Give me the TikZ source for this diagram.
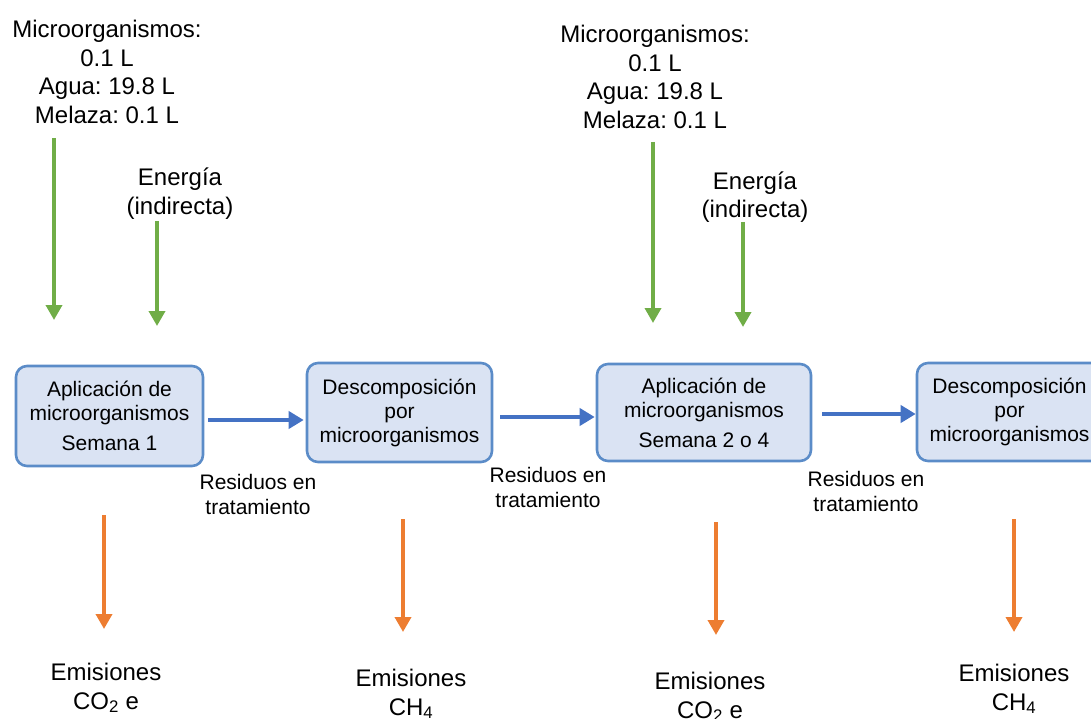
\documentclass[tikz,border=0pt]{standalone}
\usepackage{fontspec}
\setmainfont{Liberation Sans}
\usetikzlibrary{arrows.meta}
\frenchspacing
\definecolor{boxfill}{HTML}{DAE3F3}
\definecolor{boxline}{HTML}{5B8CC8}
\definecolor{flowblue}{HTML}{4472C4}
\definecolor{ingreen}{HTML}{70AD47}
\definecolor{outorange}{HTML}{ED7D31}
\tikzset{
  stagebox/.style={draw=boxline, fill=boxfill, line width=2.6pt, rounded corners=11pt,
    inner sep=0pt, align=center, font=\fontsize{21}{24}\selectfont},
  biglabel/.style={align=center, inner sep=0pt, font=\fontsize{24}{28.5}\selectfont},
  smalllabel/.style={align=center, inner sep=0pt, font=\fontsize{21}{25}\selectfont},
  flowarrow/.style={draw=flowblue, line width=3.8pt, -{Triangle[length=15pt,width=17pt]}},
  inputarrow/.style={draw=ingreen, line width=3.6pt, -{Triangle[length=15pt,width=16pt]}},
  emitarrow/.style={draw=outorange, line width=3.6pt, -{Triangle[length=15pt,width=16pt]}}
}
\begin{document}
\frenchspacing
\begin{tikzpicture}[x=1pt,y=-1pt]
\useasboundingbox (0,0) rectangle (1091,719);
\clip (0,0) rectangle (1091,719);

% process stages
\node[stagebox, minimum width=187pt, minimum height=100pt] (b1) at (109.5,416)
  {Aplicación de\\microorganismos\\[6pt]Semana 1};
\node[stagebox, minimum width=185pt, minimum height=99pt] (b2) at (399.5,412.5)
  {Descomposición\\por\\microorganismos};
\node[stagebox, minimum width=214pt, minimum height=97pt] (b3) at (704,412.5)
  {Aplicación de\\microorganismos\\[6pt]Semana 2 o 4};
\node[stagebox, minimum width=185pt, minimum height=98pt] (b4) at (1009.5,412)
  {Descomposición\\por\\microorganismos};

% flow between stages
\draw[flowarrow] ([xshift=4pt,yshift=-4pt]b1.east) -- ([xshift=-2pt,yshift=-7.5pt]b2.west);
\draw[flowarrow] ([xshift=7pt,yshift=-4.5pt]b2.east) -- ([xshift=-1pt,yshift=-4.5pt]b3.west);
\draw[flowarrow] ([xshift=10pt,yshift=-1.5pt]b3.east) -- ([xshift=0pt,yshift=-2pt]b4.west);

\node[smalllabel] (r1) at (258,494.5) {Residuos en\\tratamiento};
\node[smalllabel] (r2) at (548,487) {Residuos en\\tratamiento};
\node[smalllabel] (r3) at (866,491) {Residuos en\\tratamiento};

% inputs
\node[biglabel] (in1) at (107,72) {Microorganismos:\\0.1 L\\Agua: 19.8 L\\Melaza: 0.1 L};
\node[biglabel] (en1) at (180,193.5) {Energía\\(indirecta)};
\node[biglabel] (in2) at (655,77) {Microorganismos:\\0.1 L\\Agua: 19.8 L\\Melaza: 0.1 L};
\node[biglabel] (en2) at (755,197) {Energía\\(indirecta)};

\coordinate (g1s) at (54,138);  \coordinate (g1e) at (54,320);
\coordinate (g2s) at (157,221); \coordinate (g2e) at (157,326);
\coordinate (g3s) at (653,142); \coordinate (g3e) at (653,323);
\coordinate (g4s) at (743,222); \coordinate (g4e) at (743,327);
\draw[inputarrow] (g1s) -- (g1e);
\draw[inputarrow] (g2s) -- (g2e);
\draw[inputarrow] (g3s) -- (g3e);
\draw[inputarrow] (g4s) -- (g4e);

% emissions
\coordinate (o1s) at (104,515);  \coordinate (o1e) at (104,629);
\coordinate (o2s) at (403,519);  \coordinate (o2e) at (403,632);
\coordinate (o3s) at (716,522);  \coordinate (o3e) at (716,635);
\coordinate (o4s) at (1014,519); \coordinate (o4e) at (1014,632);
\draw[emitarrow] (o1s) -- (o1e);
\draw[emitarrow] (o2s) -- (o2e);
\draw[emitarrow] (o3s) -- (o3e);
\draw[emitarrow] (o4s) -- (o4e);

\node[biglabel] (e1) at (106,688) {Emisiones\\CO\textsubscript{2} e};
\node[biglabel] (e2) at (411,694) {Emisiones\\CH\textsubscript{4}};
\node[biglabel] (e3) at (710,697) {Emisiones\\CO\textsubscript{2} e};
\node[biglabel] (e4) at (1014,689) {Emisiones\\CH\textsubscript{4}};
\end{tikzpicture}
\end{document}
